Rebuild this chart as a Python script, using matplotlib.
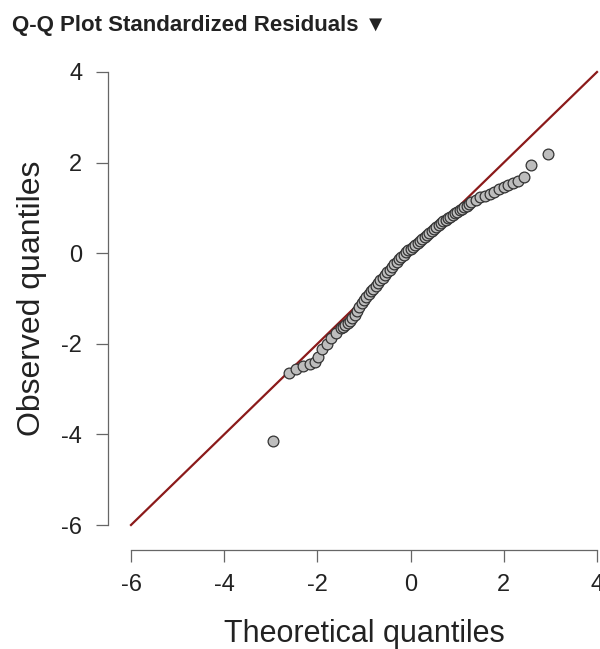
import matplotlib
matplotlib.use("Agg")
import matplotlib.pyplot as plt

# Q-Q plot of standardized residuals
theoretical = [-2.95, -2.60, -2.45, -2.30, -2.15, -2.05, -1.98, -1.90, -1.80,
               -1.70, -1.60, -1.50, -1.45, -1.40, -1.35, -1.30, -1.25, -1.20,
               -1.15, -1.10, -1.05, -1.00, -0.95, -0.90, -0.85, -0.80, -0.75,
               -0.70, -0.65, -0.60, -0.55, -0.50, -0.45, -0.40, -0.35, -0.30,
               -0.25, -0.20, -0.15, -0.10, -0.05, 0.00, 0.05, 0.10, 0.15,
               0.20, 0.25, 0.30, 0.35, 0.40, 0.45, 0.50, 0.55, 0.60, 0.65,
               0.70, 0.75, 0.80, 0.85, 0.90, 0.95, 1.00, 1.05, 1.10, 1.15,
               1.20, 1.25, 1.30, 1.40, 1.50, 1.60, 1.70, 1.80, 1.90, 2.00,
               2.10, 2.20, 2.30, 2.43, 2.58, 2.95]
observed = [-4.15, -2.64, -2.56, -2.50, -2.45, -2.40, -2.30, -2.12, -2.00,
            -1.88, -1.76, -1.66, -1.62, -1.58, -1.54, -1.50, -1.43, -1.36,
            -1.27, -1.18, -1.10, -1.03, -0.96, -0.90, -0.84, -0.78, -0.72,
            -0.66, -0.60, -0.54, -0.48, -0.42, -0.36, -0.30, -0.24, -0.19,
            -0.13, -0.08, -0.03, 0.02, 0.06, 0.10, 0.14, 0.18, 0.22,
            0.27, 0.31, 0.36, 0.40, 0.45, 0.49, 0.53, 0.58, 0.62, 0.66,
            0.70, 0.74, 0.77, 0.81, 0.84, 0.88, 0.91, 0.95, 0.98, 1.02,
            1.05, 1.09, 1.12, 1.18, 1.23, 1.27, 1.31, 1.36, 1.41, 1.46,
            1.51, 1.55, 1.60, 1.68, 1.94, 2.18]

ref_line = [-6, 4]
ticks = [-6, -4, -2, 0, 2, 4]

plt.rcParams['font.family'] = ['Liberation Sans', 'DejaVu Sans']

fig = plt.figure(figsize=(6.0, 6.49), dpi=100)
ax = fig.add_axes([131 / 600, 124 / 649, 466 / 600, 453 / 649])

ax.plot(ref_line, ref_line, color='#8b1a1a', lw=1.6, clip_on=False, zorder=2)
ax.scatter(theoretical, observed, s=60, facecolor='#bdbdbd', edgecolor='#333333',
           linewidth=0.9, clip_on=False, zorder=3)

ax.set_xlim(-6, 4)
ax.set_ylim(-6, 4)
ax.set_xticks(ticks)
ax.set_yticks(ticks)
ax.set_xticklabels([str(t) for t in ticks])
ax.set_yticklabels([str(t) for t in ticks])

for side in ['top', 'right']:
    ax.spines[side].set_visible(False)
ax.spines['left'].set_position(('outward', 16.6))
ax.spines['bottom'].set_position(('outward', 18))
for side in ['left', 'bottom']:
    ax.spines[side].set_color('#666666')
    ax.spines[side].set_linewidth(0.9)
ax.spines['left'].set_bounds(-6, 4)
ax.spines['bottom'].set_bounds(-6, 4)

ax.tick_params(axis='both', length=8.5, width=0.9, color='#666666',
               labelsize=17, labelcolor='#222222')
ax.tick_params(axis='y', pad=10)
ax.tick_params(axis='x', pad=9)

ax.set_xlabel("Theoretical quantiles", fontsize=22, color='#222222', labelpad=16)
ax.set_ylabel("Observed quantiles", fontsize=23, color='#222222', labelpad=10)

fig.text(12 / 600, 1 - 25 / 649, "Q-Q Plot Standardized Residuals \u25BC",
         fontsize=16, fontweight='bold', color='#222222', va='center', ha='left')

fig.savefig("out.png", dpi=100)
